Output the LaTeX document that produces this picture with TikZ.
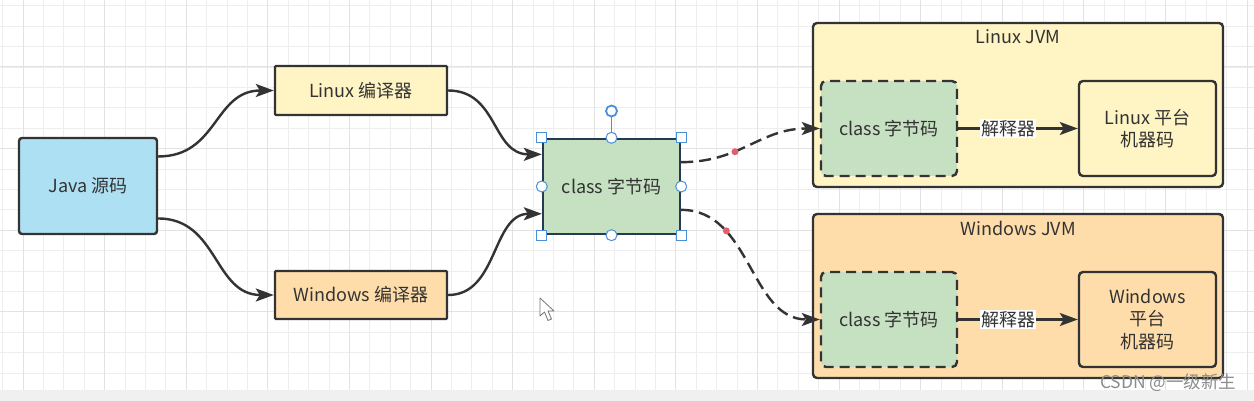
\documentclass[tikz,border=0pt]{standalone}
\usepackage{fontspec}
\newfontfamily\cjk{Noto Sans CJK SC}
\usetikzlibrary{arrows.meta,calc}
\definecolor{ink}{HTML}{333333}
\definecolor{txt}{HTML}{333333}
\definecolor{gridminor}{HTML}{EEEEEE}
\definecolor{gridmajor}{HTML}{E2E2E2}
\definecolor{javafill}{HTML}{AEE0F3}
\definecolor{yelfill}{HTML}{FFF4C4}
\definecolor{orafill}{HTML}{FFDDAA}
\definecolor{grnfill}{HTML}{C6E0C2}
\definecolor{selblue}{HTML}{4A90D9}
\definecolor{reddot}{HTML}{E06070}
\definecolor{classink}{HTML}{263B52}
\begin{document}
\begin{tikzpicture}[x=1pt,y=-1pt,
  lbltext/.style={font=\cjk\fontsize{18}{22.5}\selectfont, text=txt, align=center},
  box/.style={lbltext, draw=ink, line width=2.4pt, inner sep=0pt, rounded corners=3pt},
  dbox/.style={box, dash pattern=on 10pt off 6pt, rounded corners=5pt},
  conn/.style={draw=ink, line width=2.4pt, -{Stealth[length=18pt,width=13pt,inset=4pt]}},
  dconn/.style={conn, dash pattern=on 12pt off 6pt},
  lbl/.style={lbltext, fill=white, inner sep=1pt},
  rdot/.style={circle, fill=reddot, inner sep=0pt, minimum size=7pt},
  hsq/.style={draw=selblue, fill=white, line width=1pt, inner sep=0pt, minimum size=10pt},
  hci/.style={circle, draw=selblue, fill=white, line width=1pt, inner sep=0pt, minimum size=11pt}
]
\useasboundingbox (0,0) rectangle (1254,401);
\fill[white] (0,0) rectangle (1254,401);
% grid
\foreach \i in {0,...,61} \draw[gridminor, line width=0.8pt] ({2.6+20.4*\i},0) -- ({2.6+20.4*\i},390);
\foreach \i in {0,...,19} \draw[gridminor, line width=0.8pt] (0,{5.8+20.4*\i}) -- (1254,{5.8+20.4*\i});
\foreach \i in {0,...,15} \draw[gridmajor, line width=1pt] ({23+81.6*\i},0) -- ({23+81.6*\i},390);
\foreach \i in {0,...,4} \draw[gridmajor, line width=1pt] (0,{67+81.6*(\i-1)}) -- (1254,{67+81.6*(\i-1)});
\fill[black!6] (0,390) rectangle (1254,401);

% left side
\node[box, fill=javafill, minimum width=138pt, minimum height=96pt] (java) at (88,186) {Java 源码};
\node[box, fill=yelfill, rounded corners=1pt, minimum width=172pt, minimum height=49pt] (lc) at (361,90.5) {Linux 编译器};
\node[box, fill=orafill, rounded corners=1pt, minimum width=172pt, minimum height=48pt] (wc) at (361,295) {Windows 编译器};
\node[box, draw=classink, fill=grnfill, rounded corners=0pt, minimum width=137pt, minimum height=95pt] (cls) at (611.5,186.5) {class 字节码};

% JVM containers
\node[box, fill=yelfill, rounded corners=4pt, minimum width=410pt, minimum height=164pt] (ljvm) at (1018,105) {};
\node[lbltext, anchor=center] (ljvmt) at (1018,37) {Linux JVM};
\node[dbox, fill=grnfill, minimum width=136pt, minimum height=95pt] (lcc) at (889,128.5) {class 字节码};
\node[box, fill=yelfill, rounded corners=4pt, minimum width=137pt, minimum height=95pt] (lcp) at (1147.5,128.5) {Linux 平台\\机器码};

\node[box, fill=orafill, rounded corners=4pt, minimum width=410pt, minimum height=164pt] (wjvm) at (1018,296) {};
\node[lbltext, anchor=center] (wjvmt) at (1018,228) {Windows JVM};
\node[dbox, fill=grnfill, minimum width=136pt, minimum height=95pt] (wcc) at (889,319.5) {class 字节码};
\node[box, fill=orafill, rounded corners=4pt, minimum width=137pt, minimum height=95pt] (wcp) at (1147.5,319.5) {Windows\\平台\\机器码};

% connectors
\draw[conn] ($(java.north east)!0.2!(java.south east)$) .. controls +(60,0) and +(-60,0) .. (lc.west);
\draw[conn] ($(java.north east)!0.83!(java.south east)$) .. controls +(60,0) and +(-60,0) .. (wc.west);
\draw[conn] (lc.east) .. controls +(50,0) and +(-50,0) .. ($(cls.north west)!0.17!(cls.south west)$);
\draw[conn] (wc.east) .. controls +(50,0) and +(-50,0) .. ($(cls.north west)!0.78!(cls.south west)$);
\draw[dconn] ($(cls.north east)!0.25!(cls.south east)$) .. controls +(60,0) and +(-60,0) .. node[rdot, pos=0.37] (rd1) {} (lcc.west);
\draw[dconn] ($(cls.north east)!0.74!(cls.south east)$) .. controls +(70,0) and +(-70,0) .. node[rdot, pos=0.28] (rd2) {} (wcc.west);
\draw[conn] (lcc.east) -- node[lbl, pos=0.42] (li) {解释器} (lcp.west);
\draw[conn] (wcc.east) -- node[lbl, pos=0.42] (wi) {解释器} (wcp.west);

% selection handles
\draw[selblue, line width=1.2pt] (cls.north) -- (611.5,117);
\node[circle, draw=selblue, fill=white, line width=1.8pt, inner sep=0pt, minimum size=11pt] (rot) at (611.5,111) {};
\node[hsq] (h1) at (cls.north west) {};
\node[hsq] (h2) at (cls.north east) {};
\node[hsq] (h3) at (cls.south west) {};
\node[hsq] (h4) at (cls.south east) {};
\node[hci] (h5) at (cls.north) {};
\node[hci] (h6) at (cls.south) {};
\node[hci] (h7) at (cls.west) {};
\node[hci] (h8) at (cls.east) {};

% mouse cursor
\draw[black!55, fill=white, line width=0.8pt, line join=round]
  (540,298) -- (540,316) -- (544.5,312) -- (548,320.5) -- (551.5,319) -- (548,311) -- (554,311) -- cycle;

% watermark
\node[font=\cjk\fontsize{17.5}{20}\selectfont, text=black!45, anchor=east] (wm) at (1240,383) {CSDN @一级新生};
\end{tikzpicture}
\end{document}
